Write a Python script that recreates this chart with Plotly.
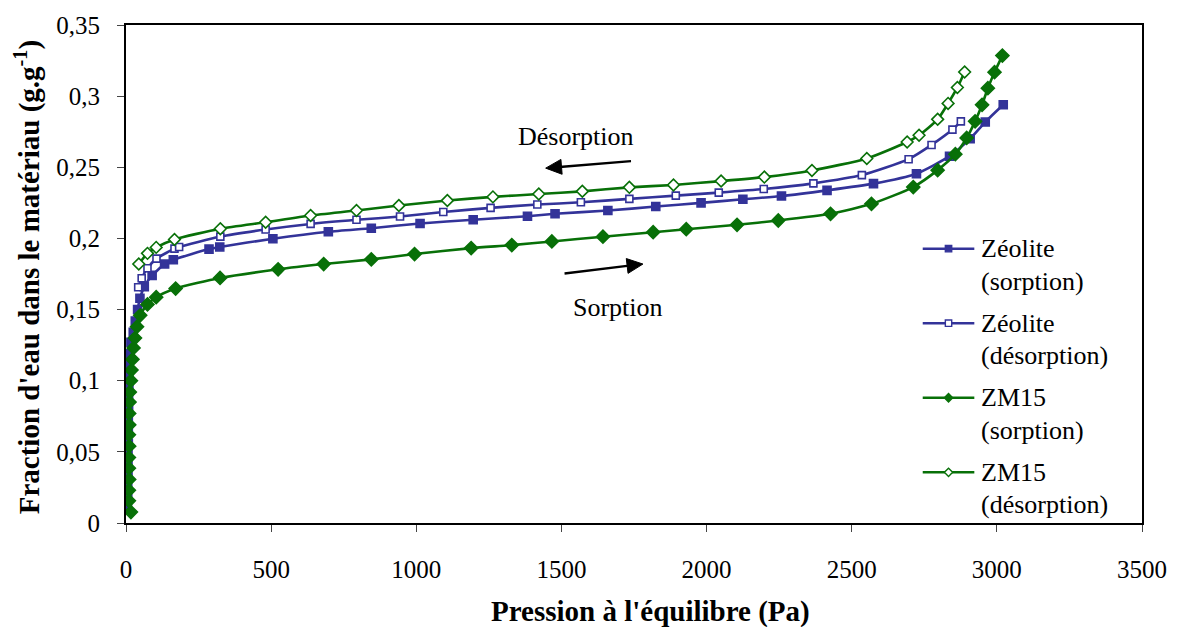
import math
import plotly.graph_objects as go

# ---------------- data ----------------
zeo_sorp_x = [5, 6, 6, 7, 7, 7, 8, 8, 8, 9, 9, 10, 10, 11, 13, 17, 25, 32, 40, 48, 63, 90, 133, 163,
              286, 323, 506, 697, 845, 1013, 1196, 1383, 1478, 1660, 1825, 1981, 2125, 2258, 2415,
              2575, 2723, 2837, 2908, 2960, 3022]
zeo_sorp_y = [0.010, 0.018, 0.026, 0.033, 0.041, 0.049, 0.056, 0.064, 0.072, 0.079, 0.087, 0.095,
              0.103, 0.111, 0.119, 0.127, 0.134, 0.142, 0.150, 0.158, 0.166, 0.174, 0.182, 0.185,
              0.1925, 0.194, 0.1998, 0.2047, 0.2072, 0.2105, 0.2131, 0.2156, 0.2173, 0.2196, 0.2224,
              0.2250, 0.2275, 0.2298, 0.2338, 0.2385, 0.2455, 0.2578, 0.2701, 0.2818, 0.2939]

zeo_desorp_x = [42, 54, 74, 105, 167, 183, 325, 481, 636, 794, 944, 1093, 1256, 1417, 1567, 1734,
                1894, 2042, 2197, 2368, 2535, 2696, 2775, 2847, 2876]
zeo_desorp_y = [0.1657, 0.172, 0.179, 0.1858, 0.1928, 0.194, 0.2013, 0.2063, 0.2102, 0.2131, 0.2154,
                0.2186, 0.2215, 0.2238, 0.2254, 0.2278, 0.2301, 0.2322, 0.2347, 0.2387, 0.2445,
                0.2557, 0.2657, 0.2765, 0.2823]

zm_sorp_x = [17, 10, 10, 11, 10, 10, 11, 10, 11, 11, 12, 13, 17, 19, 22, 26, 31, 38, 49, 74, 104,
             171, 324, 524, 681, 845, 994, 1189, 1329, 1467, 1643, 1816, 1930, 2105, 2247, 2427,
             2568, 2712, 2796, 2857, 2896, 2925, 2949, 2969, 2992, 3019]
zm_sorp_y = [0.0077, 0.0156, 0.023, 0.0306, 0.0385, 0.046, 0.054, 0.062, 0.069, 0.077, 0.085, 0.092,
             0.100, 0.1075, 0.115, 0.123, 0.130, 0.138, 0.146, 0.1536, 0.1587, 0.1648, 0.1722,
             0.1783, 0.1820, 0.1853, 0.1890, 0.1932, 0.1953, 0.1979, 0.2012, 0.2044, 0.2065,
             0.2096, 0.2126, 0.2173, 0.2243, 0.2361, 0.2480, 0.2592, 0.2706, 0.2823, 0.2939,
             0.3056, 0.3168, 0.3285]

zm_desorp_x = [44, 74, 104, 167, 325, 481, 636, 794, 940, 1107, 1264, 1422, 1572, 1734, 1886, 2050,
               2199, 2363, 2552, 2691, 2732, 2796, 2832, 2864, 2889]
zm_desorp_y = [0.182, 0.1895, 0.1937, 0.1993, 0.2068, 0.2114, 0.2161, 0.2196, 0.2231, 0.2266,
               0.2292, 0.2312, 0.2331, 0.2359, 0.2376, 0.2403, 0.2431, 0.2478, 0.2562, 0.2678,
               0.2725, 0.2837, 0.2949, 0.3061, 0.3170]

series_names = ["Zéolite<br>(sorption)", "Zéolite<br>(désorption)",
                "ZM15<br>(sorption)", "ZM15<br>(désorption)"]

x_tickvals = [0, 500, 1000, 1500, 2000, 2500, 3000, 3500]
x_ticktext = ["0", "500", "1000", "1500", "2000", "2500", "3000", "3500"]
y_tickvals = [0, 0.05, 0.1, 0.15, 0.2, 0.25, 0.3, 0.35]
y_ticktext = ["0", "0,05", "0,1", "0,15", "0,2", "0,25", "0,3", "0,35"]

x_title = "Pression à l'équilibre (Pa)"
y_title = "Fraction d'eau dans le matériau (g.g<sup>-1</sup>)"

# ---------------- styling ----------------
BLUE = "#333399"
GREEN = "#087008"
FONT = "Liberation Serif, Times New Roman, serif"
W, H = 1179, 627
L, R, T, B = 126, 29, 22, 104   # margins -> plot area px 126..1150, 22..523
PW, PH = W - L - R, H - T - B


def px(pxx):
    return (pxx - L) / PW


def py(pyy):
    return (H - B - pyy) / PH


styles = [
    dict(color=BLUE, symbol="square", fill=BLUE, size=8),
    dict(color=BLUE, symbol="square", fill="white", size=7),
    dict(color=GREEN, symbol="diamond", fill=GREEN, size=10),
    dict(color=GREEN, symbol="diamond", fill="white", size=9),
]
datasets = [(zeo_sorp_x, zeo_sorp_y), (zeo_desorp_x, zeo_desorp_y),
            (zm_sorp_x, zm_sorp_y), (zm_desorp_x, zm_desorp_y)]

fig = go.Figure()
for (xs, ys), st, name in zip(datasets, styles, series_names):
    fig.add_trace(go.Scatter(
        x=xs, y=ys, name=name, mode="lines+markers",
        line=dict(color=st["color"], width=2.6, shape="spline", smoothing=0.6),
        marker=dict(symbol=st["symbol"], size=st["size"], color=st["fill"],
                    line=dict(color=st["color"], width=1.6)),
        showlegend=False, hoverinfo="skip"))

# ---- manual legend (shapes + annotations in paper coordinates) ----
leg_y0 = 247
leg_pitch = 75
for i, (st, name) in enumerate(zip(styles, series_names)):
    yy = leg_y0 + i * leg_pitch
    fig.add_shape(type="line", xref="paper", yref="paper",
                  x0=px(929), x1=px(981), y0=py(yy), y1=py(yy),
                  line=dict(color=st["color"], width=2.5))
    cx = 955
    if st["symbol"] == "square":
        h = 3.2
        fig.add_shape(type="rect", xref="paper", yref="paper",
                      x0=px(cx - h), x1=px(cx + h), y0=py(yy - h), y1=py(yy + h),
                      fillcolor=st["fill"], line=dict(color=st["color"], width=1.4))
    else:
        h = 4.2
        path = (f"M {px(cx - h)},{py(yy)} L {px(cx)},{py(yy - h)} "
                f"L {px(cx + h)},{py(yy)} L {px(cx)},{py(yy + h)} Z")
        fig.add_shape(type="path", xref="paper", yref="paper", path=path,
                      fillcolor=st["fill"], line=dict(color=st["color"], width=1.4))
    for j, txt in enumerate(name.split("<br>")):
        fig.add_annotation(x=px(986), y=py(yy + j * 32.6), xref="paper", yref="paper",
                           text=txt, showarrow=False, xanchor="left", yanchor="middle",
                           font=dict(family=FONT, size=26, color="black"))


# ---- arrows (shapes) and labels ----
def add_arrow(tail, tip, head_len=16, head_half=7.5, width=2.3):
    dx, dy = tip[0] - tail[0], tip[1] - tail[1]
    n = math.hypot(dx, dy)
    ux, uy = dx / n, dy / n
    bx, by = tip[0] - head_len * ux, tip[1] - head_len * uy
    nx, ny = -uy, ux
    fig.add_shape(type="line", xref="paper", yref="paper", x0=px(tail[0]), y0=py(tail[1]),
                  x1=px(bx + 2 * ux), y1=py(by + 2 * uy), line=dict(color="black", width=width))
    path = (f"M {px(tip[0])},{py(tip[1])} "
            f"L {px(bx + head_half * nx)},{py(by + head_half * ny)} "
            f"L {px(bx - head_half * nx)},{py(by - head_half * ny)} Z")
    fig.add_shape(type="path", xref="paper", yref="paper", path=path,
                  fillcolor="black", line=dict(color="black", width=1))


add_arrow((635, 159), (549, 166))
add_arrow((568, 272), (647, 262.5))

fig.add_annotation(x=px(580), y=py(134), xref="paper", yref="paper", text="Désorption",
                   showarrow=False, xanchor="center", yanchor="middle",
                   font=dict(family=FONT, size=26, color="black"))
fig.add_annotation(x=px(622), y=py(306), xref="paper", yref="paper", text="Sorption",
                   showarrow=False, xanchor="center", yanchor="middle",
                   font=dict(family=FONT, size=26, color="black"))

# ---- axis titles (paper coordinates, outside the plot area) ----
fig.add_annotation(x=px(655), y=py(612), xref="paper", yref="paper",
                   text="<b>" + x_title + "</b>", showarrow=False,
                   xanchor="center", yanchor="middle",
                   font=dict(family=FONT, size=29, color="black"))
fig.add_annotation(x=px(27), y=py(276), xref="paper", yref="paper",
                   text="<b>" + y_title + "</b>", showarrow=False, textangle=-90,
                   xanchor="center", yanchor="middle",
                   font=dict(family=FONT, size=29, color="black"))

fig.update_layout(
    width=W, height=H,
    margin=dict(l=L, r=R, t=T, b=B, pad=0),
    paper_bgcolor="white", plot_bgcolor="white",
    showlegend=False,
    font=dict(family=FONT, size=25, color="black"),
    xaxis=dict(range=[0, 3500], tickvals=x_tickvals, ticktext=x_ticktext,
               showgrid=False, zeroline=False, showline=True, linecolor="black", linewidth=2,
               mirror=True, ticks="outside", ticklen=7, tickwidth=1, tickcolor="#444",
               ticklabelstandoff=16, tickfont=dict(family=FONT, size=25, color="black")),
    yaxis=dict(range=[0, 0.35], tickvals=y_tickvals, ticktext=y_ticktext,
               showgrid=False, zeroline=False, showline=True, linecolor="black", linewidth=2,
               mirror=True, ticks="outside", ticklen=7, tickwidth=1, tickcolor="#444",
               ticklabelstandoff=12, tickfont=dict(family=FONT, size=25, color="black")),
)

fig.write_html("out.html", config={"displayModeBar": False, "staticPlot": True},
               post_script="document.body.style.margin='0px';"
                           "document.body.style.overflow='hidden';")
